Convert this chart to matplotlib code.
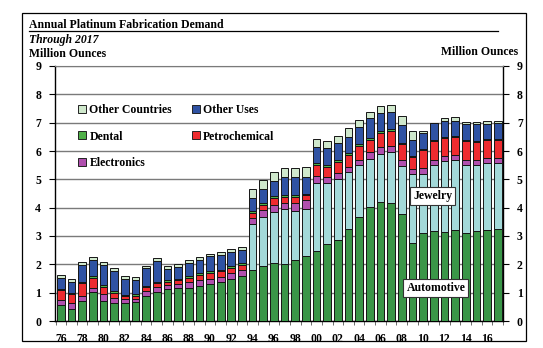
import numpy as np
import matplotlib
matplotlib.use('Agg')
import matplotlib.pyplot as plt
from matplotlib.patches import Rectangle
from matplotlib.lines import Line2D

plt.rcParams['font.family'] = ['Liberation Serif', 'DejaVu Serif']
plt.rcParams['font.weight'] = 'bold'

# platinum fabrication demand, million ounces
years = list(range(1976, 2018))
automotive = [0.55, 0.44, 0.71, 1.04, 0.71, 0.63, 0.65, 0.68, 0.89, 1.04,
              1.12, 1.16, 1.18, 1.23, 1.30, 1.39, 1.50, 1.60, 1.80, 1.94,
              2.06, 2.01, 2.15, 2.29, 2.47, 2.71, 2.86, 3.23, 3.66, 4.04,
              4.19, 4.16, 3.78, 2.74, 3.09, 3.17, 3.13, 3.21, 3.12, 3.16,
              3.21, 3.24]
jewelry = [0, 0, 0, 0, 0, 0, 0, 0, 0, 0,
           0, 0, 0, 0, 0, 0, 0, 0, 1.61, 1.72,
           1.80, 1.93, 1.75, 1.65, 2.39, 2.15, 2.14, 2.02, 1.83, 1.69,
           1.71, 1.80, 1.68, 2.45, 2.10, 2.32, 2.50, 2.46, 2.38, 2.35,
           2.36, 2.33]
electronics = [0.18, 0.18, 0.18, 0.14, 0.23, 0.17, 0.12, 0.11, 0.18, 0.15,
               0.14, 0.14, 0.18, 0.21, 0.19, 0.18, 0.19, 0.21, 0.24, 0.25,
               0.22, 0.21, 0.25, 0.33, 0.26, 0.23, 0.24, 0.20, 0.21, 0.23,
               0.24, 0.23, 0.21, 0.19, 0.22, 0.20, 0.18, 0.20, 0.19, 0.18,
               0.18, 0.18]
petrochemical = [0.35, 0.33, 0.44, 0.33, 0.25, 0.20, 0.11, 0.11, 0.12, 0.14,
                 0.13, 0.15, 0.17, 0.19, 0.20, 0.18, 0.18, 0.18, 0.17, 0.18,
                 0.26, 0.24, 0.24, 0.18, 0.39, 0.36, 0.38, 0.41, 0.46, 0.43,
                 0.51, 0.52, 0.57, 0.40, 0.61, 0.65, 0.65, 0.62, 0.65, 0.64,
                 0.63, 0.65]
dental = [0.04, 0.04, 0.06, 0.09, 0.09, 0.05, 0.05, 0.05, 0.05, 0.06,
          0.06, 0.05, 0.05, 0.06, 0.06, 0.06, 0.06, 0.06, 0.06, 0.07,
          0.06, 0.07, 0.07, 0.05, 0.08, 0.06, 0.06, 0.06, 0.08, 0.06,
          0.05, 0.05, 0.05, 0.05, 0.05, 0.04, 0.04, 0.04, 0.04, 0.04,
          0.04, 0.04]
other_uses = [0.39, 0.40, 0.59, 0.55, 0.70, 0.72, 0.55, 0.49, 0.63, 0.74,
              0.40, 0.42, 0.48, 0.47, 0.53, 0.52, 0.51, 0.47, 0.47, 0.49,
              0.53, 0.61, 0.62, 0.57, 0.56, 0.58, 0.61, 0.59, 0.60, 0.70,
              0.65, 0.60, 0.64, 0.55, 0.55, 0.60, 0.56, 0.53, 0.57, 0.58,
              0.55, 0.55]
other_countries = [0.10, 0.10, 0.10, 0.11, 0.10, 0.10, 0.10, 0.10, 0.08, 0.10,
                   0.08, 0.08, 0.08, 0.09, 0.09, 0.10, 0.09, 0.09, 0.30, 0.34,
                   0.34, 0.34, 0.33, 0.35, 0.27, 0.27, 0.24, 0.29, 0.26, 0.22,
                   0.25, 0.27, 0.29, 0.32, 0.08, 0.01, 0.11, 0.15, 0.07, 0.07,
                   0.08, 0.06]

series = [
    ('Automotive', automotive, '#3a9648'),
    ('Jewelry', jewelry, '#a3d9d9'),
    ('Electronics', electronics, '#b04fae'),
    ('Petrochemical', petrochemical, '#ee2b2f'),
    ('Dental', dental, '#4fb048'),
    ('Other Uses', other_uses, '#2f52a3'),
    ('Other Countries', other_countries, '#cfe8cc'),
]

W, H = 543, 348
fig = plt.figure(figsize=(W / 100, H / 100), dpi=100)
ax = fig.add_axes([55 / W, 27 / H, (503 - 55) / W, (321 - 66) / H])

x = np.array(years)
bottom = np.zeros(len(years))
bars = {}
for name, vals, col in series:
    vals = np.array(vals)
    bars[name] = ax.bar(x, vals, 0.72, bottom=bottom, color=col,
                        edgecolor='#151515', linewidth=0.7, zorder=3)
    bottom += vals

ax.set_xlim(1975.45, 2017.4)
ax.set_ylim(0, 9)
ax.set_yticks(range(0, 10))
ax.yaxis.grid(True, color='#7a7a7a', linewidth=1.0, zorder=0)
ax.set_axisbelow(True)

ax.set_xticks(years[::2])
ax.set_xticklabels(['%02d' % (y % 100) for y in years[::2]])
ax.set_xticks(np.arange(1975.5, 2017.6, 1.0), minor=True)
ax.tick_params(axis='x', which='major', length=0, pad=9, labelsize=8.5)
ax.tick_params(axis='x', which='minor', length=3, color='#555555')
ax.tick_params(axis='y', left=True, right=True, labelleft=True,
               labelright=True, direction='out', length=4, width=0.8,
               labelsize=8.5, pad=6)

for s in ['left', 'right', 'bottom']:
    ax.spines[s].set_color('black')
    ax.spines[s].set_linewidth(1.0)
ax.spines['top'].set_color('#7a7a7a')

# legend: two columns, filled column-first
order = ['Other Countries', 'Dental', 'Electronics', 'Other Uses', 'Petrochemical']
colors = dict((n, c) for n, v, c in series)
handles = [Line2D([], [], marker='s', linestyle='none', markersize=6,
                  markerfacecolor=colors[n], markeredgecolor='#222222',
                  markeredgewidth=0.7) for n in order]
leg = ax.legend(handles, order, ncol=2, loc='upper left',
                bbox_to_anchor=(0.04, 0.87), frameon=False,
                prop={'weight': 'bold', 'size': 8.5}, handlelength=0.8,
                handletextpad=0.2, columnspacing=1.6, labelspacing=1.25,
                borderaxespad=0)

box = dict(boxstyle='square,pad=0.25', facecolor='white', edgecolor='#333333',
           linewidth=0.8)
ax.text(2010.9, 4.41, 'Jewelry', ha='center', va='center', fontsize=8.5,
        fontweight='bold', bbox=box, zorder=5)
ax.text(2011.2, 1.16, 'Automotive', ha='center', va='center', fontsize=8.5,
        fontweight='bold', bbox=box, zorder=5)

# heading block
fig.text(29 / W, 1 - 25 / H, 'Annual Platinum Fabrication Demand',
         fontsize=8.5, fontweight='bold', va='center', ha='left')
fig.add_artist(Line2D([29 / W, 498 / W], [1 - 31 / H, 1 - 31 / H],
                      color='black', linewidth=0.9))
fig.text(29 / W, 1 - 40 / H, 'Through 2017', fontsize=8.5, fontweight='bold',
         style='italic', va='center', ha='left')
fig.text(29 / W, 1 - 54 / H, 'Million Ounces', fontsize=8.5,
         fontweight='bold', va='center', ha='left')
fig.text(518 / W, 1 - 52 / H, 'Million Ounces', fontsize=8.5,
         fontweight='bold', va='center', ha='right')

fig.add_artist(Rectangle((22 / W, 7 / H), (526 - 22) / W, (335 - 7) / H,
                         transform=fig.transFigure, fill=False,
                         edgecolor='black', linewidth=0.9))

fig.savefig('out.png', dpi=100)
